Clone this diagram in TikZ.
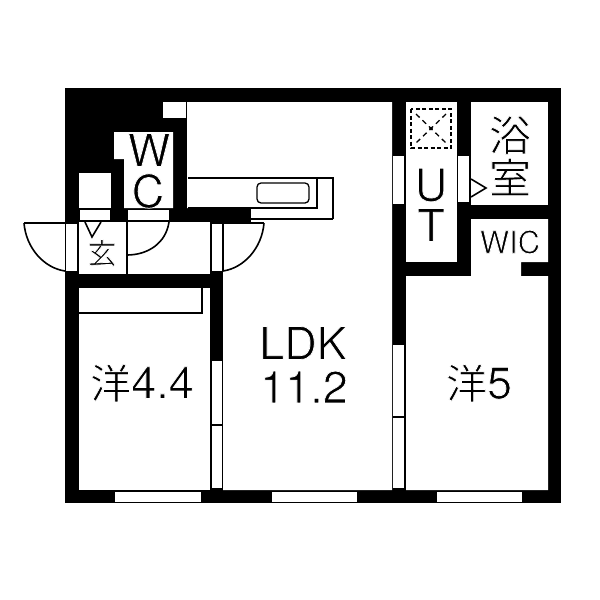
\documentclass[tikz,border=0pt]{standalone}
\usepackage{fontspec}
\setmainfont{TeX Gyre Heros}
\newfontfamily\cjk{Noto Sans CJK JP}
\newcommand{\slim}[1]{\special{pdf:code q 2 Tr 0.75 w 1 1 1 RG}#1\special{pdf:code Q}}
\tikzset{
  room/.style={fill=white,draw=none},
  wall/.style={fill=black,draw=none},
  thinline/.style={draw=black,line width=1.1pt},
  leaf/.style={draw=black,line width=1.6pt},
  frameline/.style={draw=black,line width=1.3pt},
  label/.style={inner sep=0pt,text=black,font=\fontsize{45}{45}\selectfont},
  smalllabel/.style={inner sep=0pt,text=black,font=\fontsize{31}{31}\selectfont},
  cjklabel/.style={inner sep=0pt,text=black,font=\cjk\fontsize{42}{42}\selectfont},
}
\begin{document}
\begin{tikzpicture}[x=1pt,y=-1pt]
\useasboundingbox (0,0) rectangle (600,600);
\fill[white] (0,0) rectangle (600,600);
% building mass
\fill[wall] (65,88) rectangle (561,503);
% rooms
\fill[room] (187,102) -- (392,102) -- (392,490) -- (223,490) -- (223,222) -- (251,222) -- (251,208) -- (187,208) -- cycle;
\fill[room] (79,222) rectangle (210,274);
\fill[room] (79,288) rectangle (210,490);
\fill[room] (114,132) -- (173,132) -- (173,208) -- (124,208) -- (124,159) -- (114,159) -- cycle;
\fill[room] (163,102) rectangle (186,118);
\fill[room] (79,173) rectangle (111,208);
\fill[room] (406,102) rectangle (457,262);
\fill[room] (471,102) rectangle (548,205);
\fill[room] (471,219) -- (548,219) -- (548,262) -- (521,262) -- (521,276) -- (548,276) -- (548,490) -- (406,490) -- (406,276) -- (471,276) -- cycle;
% door and window strips
\fill[room] (128,210) rectangle (169,220);
\fill[room] (80,210) rectangle (110,220);
\fill[room] (66,224) rectangle (77,271);
\fill[room] (212,224) rectangle (222,271);
\fill[room] (212,361) rectangle (222,488);
\fill[room] (393,345) rectangle (404,488);
\fill[room] (393,156) rectangle (404,204);
\fill[room] (458,156) rectangle (469,202);
\fill[room] (115,492) rectangle (201,502);
\fill[room] (272,492) rectangle (357,502);
\fill[room] (437,492) rectangle (522,502);
% sliding door dividers
\draw[thinline] (212,425) -- (222,425);
\draw[thinline] (393,417) -- (404,417);
% closet
\draw[frameline] (79,313) -- (202,313) -- (202,288);
% counter
\draw[thinline] (188,178) -- (333,178) -- (333,219);
\draw[frameline] (333,219) -- (251,219);
\draw[thinline] (188,208) -- (317,208) -- (317,178);
\draw[frameline,rounded corners=4pt] (257,183) rectangle (309,203);
% hall
\draw[thinline] (127,222) -- (127,274);
\draw[leaf] (127,222) -- (127,255) .. controls (148,255) and (166,243) .. (169,222);
% entrance door
\draw[thinline] (65,223) -- (24,223);
\draw[leaf] (24,223) .. controls (26,248) and (44,268) .. (65,271);
% LDK door
\draw[leaf] (223,271) -- (223,223);
\draw[thinline] (223,223) -- (264,223);
\draw[leaf] (264,223) .. controls (262,248) and (244,268) .. (223,271);
% arrows
\draw[leaf] (85,222) -- (92,237) -- (101,222);
\draw[leaf] (471,179) -- (486,188) -- (471,197);
% dashed box
\draw[line width=1.7pt,dash pattern=on 4pt off 2.5pt] (411,109) rectangle (451,148);
\draw[line width=1.3pt,dash pattern=on 5pt off 4pt] (416,114) -- (446,143);
\draw[line width=1.3pt,dash pattern=on 5pt off 4pt] (446,114) -- (416,143);
\fill[wall] (431,128.5) circle (1.8pt);
% labels
\node[label] (w) at (149,150) {\slim{W}};
\node[label] (c) at (148,191) {\slim{C}};
\node[label] (u) at (431,185) {\slim{U}};
\node[label] (t) at (431,225) {\slim{T}};
\node[cjklabel] (yoku) at (510,135) {\slim{浴}};
\node[cjklabel] (shitsu) at (510,177) {\slim{室}};
\node[smalllabel] (wic) at (510,242) {\slim{WIC}};
\node[label] (ldk) at (303,343) {\slim{LDK}};
\node[label] (area) at (304,387) {\slim{11.2}};
\node[label] (west) at (142,383) {\slim{{\cjk\fontsize{41}{41}\selectfont 洋}4.4}};
\node[label] (east) at (479,383) {\slim{{\cjk\fontsize{41}{41}\selectfont 洋}5}};
\node[cjklabel,font=\cjk\fontsize{29}{29}\selectfont] (gen) at (102,253) {\slim{玄}};
\end{tikzpicture}
\end{document}
